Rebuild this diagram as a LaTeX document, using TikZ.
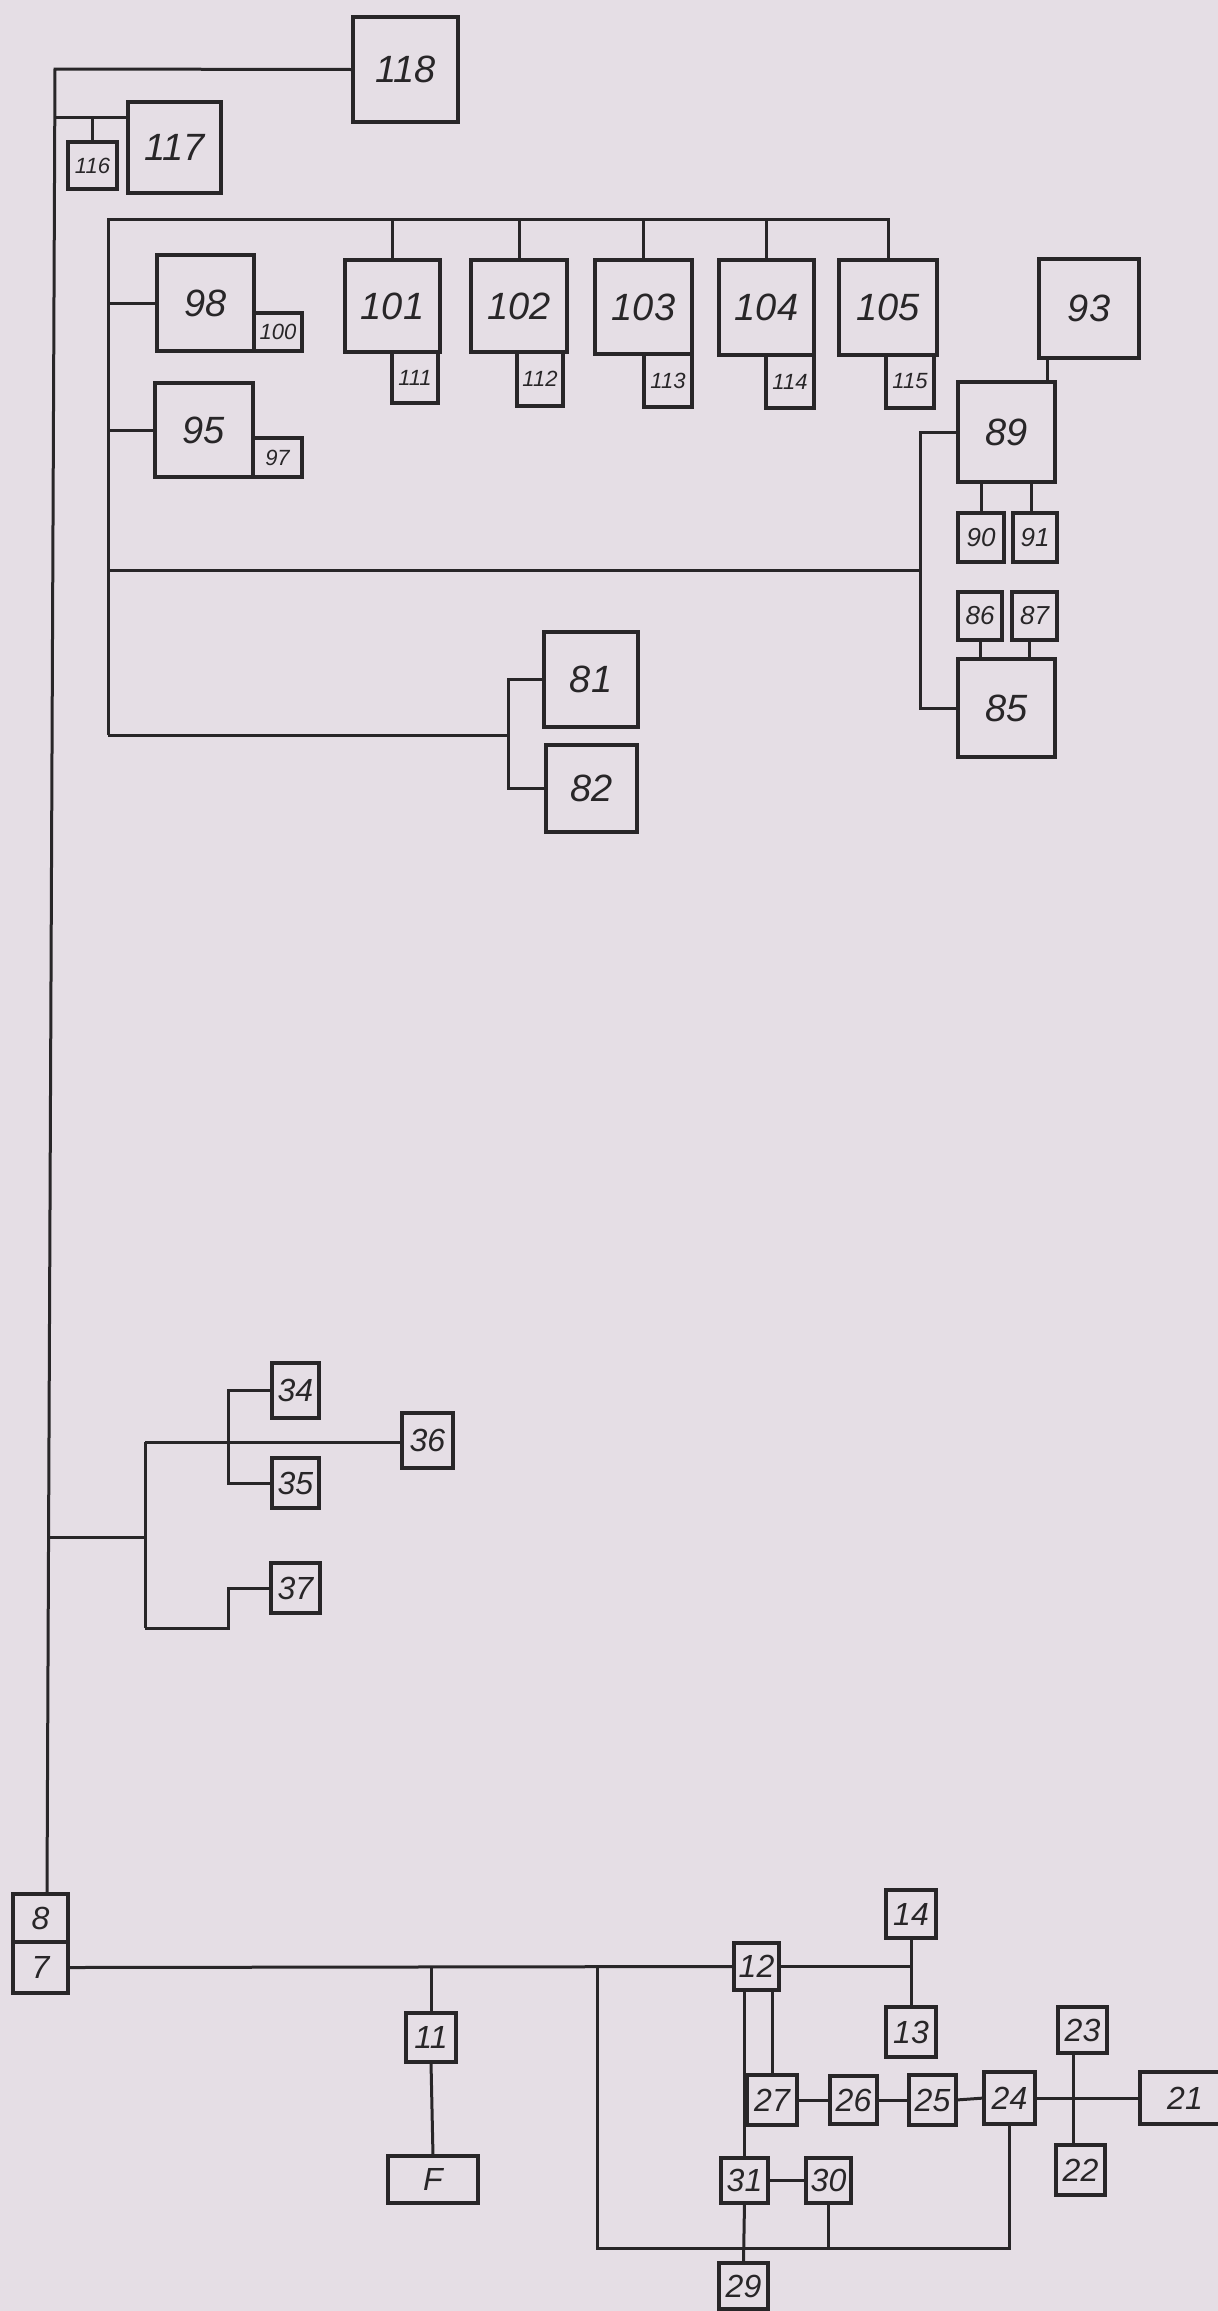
\documentclass[tikz,border=0pt]{standalone}
\usepackage{fontspec}
\setmainfont{Liberation Sans}
\definecolor{bg}{RGB}{229,222,229}
\definecolor{ink}{RGB}{40,38,40}
\tikzset{
  box/.style={draw=ink, line width=4pt, rectangle, inner sep=0pt, outer sep=0pt, text=ink},
  conn/.style={draw=ink, line width=3pt},
  bigf/.style={font=\fontsize{38}{38}\selectfont\itshape},
  medf/.style={font=\fontsize{32}{32}\selectfont\itshape},
  smallf/.style={font=\fontsize{22}{22}\selectfont\itshape},
  twof/.style={font=\fontsize{26}{26}\selectfont\itshape},
}
\newcommand\mkbox[7]{\node[box,#7,minimum width={#4-#2},minimum height={#5-#3}] (#1) at ({(#2+#4)/2},{(#3+#5)/2}) {#6};}
\begin{document}
\begin{tikzpicture}[x=1pt,y=-1pt]
\fill[bg] (0,0) rectangle (1218,2311);
\useasboundingbox (0,0) rectangle (1218,2311);

% top boxes
\mkbox{n118}{353}{17}{458}{122}{118}{bigf}
\mkbox{n117}{128}{102}{221}{193}{117}{bigf}
\mkbox{n116}{68}{142}{117}{189}{116}{smallf}
\mkbox{n98}{157}{255}{254}{351}{98}{bigf}
\mkbox{n100}{254}{313}{302}{351}{100}{smallf}
\mkbox{n95}{155}{383}{253}{477}{95}{bigf}
\mkbox{n97}{253}{438}{302}{477}{97}{smallf}
\mkbox{n101}{345}{260}{440}{352}{101}{bigf}
\mkbox{n111}{392}{352}{438}{403}{111}{smallf}
\mkbox{n102}{471}{260}{567}{352}{102}{bigf}
\mkbox{n112}{517}{352}{563}{406}{112}{smallf}
\mkbox{n103}{595}{260}{692}{354}{103}{bigf}
\mkbox{n113}{644}{354}{692}{407}{113}{smallf}
\mkbox{n104}{719}{260}{814}{355}{104}{bigf}
\mkbox{n114}{766}{355}{814}{408}{114}{smallf}
\mkbox{n105}{839}{260}{937}{355}{105}{bigf}
\mkbox{n115}{886}{355}{934}{408}{115}{smallf}
\mkbox{n93}{1039}{259}{1139}{358}{93}{bigf}
\mkbox{n89}{958}{382}{1055}{482}{89}{bigf}
\mkbox{n90}{958}{513}{1004}{562}{90}{twof}
\mkbox{n91}{1013}{513}{1057}{562}{91}{twof}
\mkbox{n86}{958}{592}{1002}{640}{86}{twof}
\mkbox{n87}{1012}{592}{1057}{640}{87}{twof}
\mkbox{n85}{958}{659}{1055}{757}{85}{bigf}
\mkbox{n81}{544}{632}{638}{727}{81}{bigf}
\mkbox{n82}{546}{745}{637}{832}{82}{bigf}
% middle branch
\mkbox{n34}{272}{1363}{319}{1418}{34}{medf}
\mkbox{n35}{272}{1458}{319}{1508}{35}{medf}
\mkbox{n36}{402}{1413}{453}{1468}{36}{medf}
\mkbox{n37}{271}{1563}{320}{1613}{37}{medf}
% bottom
\mkbox{n8}{13}{1894}{68}{1942}{8}{medf}
\mkbox{n7}{13}{1942}{68}{1993}{7}{medf}
\mkbox{n11}{406}{2013}{456}{2062}{11}{medf}
\mkbox{nF}{388}{2156}{478}{2203}{F}{medf}
\mkbox{n12}{734}{1943}{779}{1990}{12}{medf}
\mkbox{n14}{886}{1890}{936}{1938}{14}{medf}
\mkbox{n13}{886}{2007}{936}{2057}{13}{medf}
\mkbox{n27}{747}{2075}{797}{2125}{27}{medf}
\mkbox{n26}{830}{2076}{877}{2124}{26}{medf}
\mkbox{n25}{909}{2075}{956}{2125}{25}{medf}
\mkbox{n24}{984}{2072}{1035}{2124}{24}{medf}
\mkbox{n23}{1058}{2007}{1107}{2053}{23}{medf}
\mkbox{n22}{1056}{2145}{1105}{2195}{22}{medf}
\mkbox{n21}{1140}{2072}{1230}{2124}{21}{medf}
\mkbox{n31}{721}{2158}{768}{2203}{31}{medf}
\mkbox{n30}{806}{2158}{851}{2203}{30}{medf}
\mkbox{n29}{719}{2263}{768}{2309}{29}{medf}

% spine
\coordinate (sTop) at (55,69);
\coordinate (s8) at (47,1894);
\coordinate (j117) at (54.7,117);
\coordinate (jL) at (48.6,1537);
\draw[conn] (n118.west) -- (sTop) -- (s8);
\draw[conn] (j117) -- (j117 -| n117.west);
\draw[conn] (n116.north) -- (n116.north |- j117);

% inner frame
\coordinate (fTop) at (108,219);
\coordinate (fMid) at (108,570);
\coordinate (fBot) at (108,735);
\draw[conn] (fBot) -- (fTop) -- (fTop -| n105.north) -- (n105.north);
\foreach \n in {n101,n102,n103,n104} \draw[conn] (\n.north) -- (\n.north |- fTop);
\draw[conn] (n98.west) -- (n98.west -| fTop);
\draw[conn] (n95.west) -- (n95.west -| fTop);
\coordinate (v89) at (920,432);
\coordinate (v85) at (920,708);
\draw[conn] (n89.west) -- (v89) -- (v85) -- (n85.west);
\draw[conn] (fMid) -- (fMid -| v89);
\coordinate (v8182) at (508,735);
\draw[conn] (fBot) -- (v8182);
\draw[conn] (n81.west) -| (v8182);
\draw[conn] (n82.west) -| (v8182);
\draw[conn] ([xshift=-42pt]n93.south) -- ([xshift=-42pt]n93.south |- n89.north);
\draw[conn] (n90.north) -- (n90.north |- n89.south);
\draw[conn] ([xshift=-4pt]n91.north) -- ([xshift=-4pt]n91.north |- n89.south);
\draw[conn] (n86.south) -- (n86.south |- n85.north);
\draw[conn] ([xshift=-5pt]n87.south) -- ([xshift=-5pt]n87.south |- n85.north);

% middle branch
\coordinate (k1) at (145,1537);
\coordinate (kTop) at (145,1442);
\coordinate (kBot) at (145,1628);
\coordinate (m) at (228,1442);
\coordinate (kB2) at (228,1628);
\draw[conn] (jL) -- (k1);
\draw[conn] (kTop) -- (kBot);
\draw[conn] (kTop) -- (kTop -| n36.west);
\draw[conn] (n34.west) -- (n34.west -| m) -- (n35.west -| m) -- (n35.west);
\draw[conn] (kBot) -- (kB2) |- (n37.west);

% bottom network
\draw[conn] (n7.east) -- (n12.west);
\coordinate (j11) at (431,1967);
\draw[conn] (n11.north) -- (j11);
\draw[conn] (n11.south) -- (nF.north);
\coordinate (b1) at (597,1967);
\coordinate (b2) at (597,2248);
\draw[conn] (b1) -- (b2) -- (b2 -| n24.south) -- (n24.south);
\draw[conn] (n30.south) -- (n30.south |- b2);
\draw[conn] (n12.east) -- (n12.east -| n14.south);
\draw[conn] (n14.south) -- (n13.north);
\draw[conn] (n27.north) -- (n27.north |- n12.south);
\draw[conn] (n31.north) -- (n31.north |- n12.south);
\draw[conn] (n31.south) -- (n29.north);
\draw[conn] (n31.east) -- (n30.west);
\draw[conn] (n27.east) -- (n26.west);
\draw[conn] (n26.east) -- (n25.west);
\draw[conn] (n25.east) -- (n24.west);
\draw[conn] (n24.east) -- (n21.west);
\draw[conn] ([xshift=-9pt]n23.south) -- ([xshift=-7pt]n22.north);
\end{tikzpicture}
\end{document}
